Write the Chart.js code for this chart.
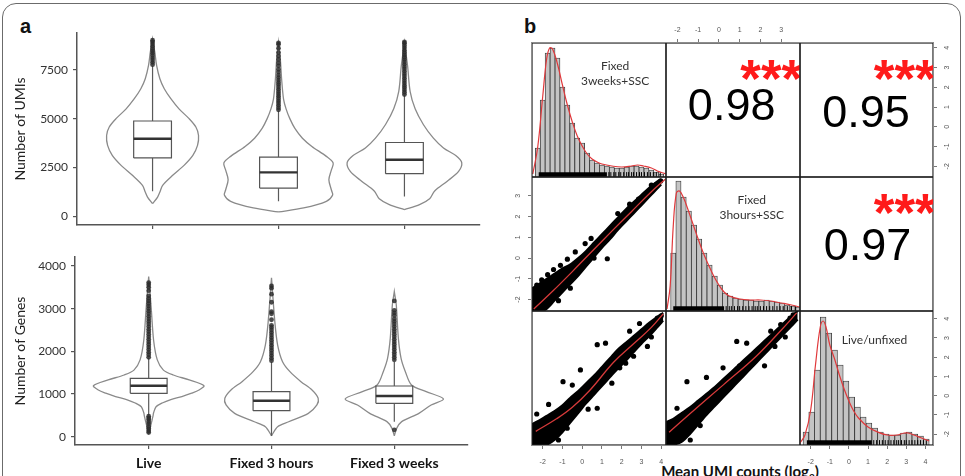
<!DOCTYPE html>
<html>
<head>
<meta charset="utf-8">
<title>UMIs, genes and pairwise UMI correlation</title>
<script src="https://cdn.jsdelivr.net/npm/chart.js@4.4.1/dist/chart.umd.min.js"></script>
<style>
  html, body { margin: 0; padding: 0; background: #fff; }
  body { position: relative; width: 965px; height: 476px; overflow: hidden; font-family: Lato, "Open Sans", sans-serif; }
  canvas { position: absolute; }
  .frame { position: absolute; left: 2px; top: 3px; width: 959px; height: 520px; border: 1.5px solid #6b6b6b; border-radius: 14px; box-sizing: border-box; }
  .panel-label { position: absolute; font: bold 20px "Liberation Sans", Arial, sans-serif; line-height: 20px; color: #111; }
  .grid-frame { position: absolute; left: 531px; top: 42px; width: 403px; height: 404px; border: 1.5px solid #8c8c8c; box-sizing: border-box; }
  .x-title { position: absolute; left: 640px; top: 462px; width: 200px; text-align: center; font: bold 15px Lato, sans-serif; line-height: 18px; color: #111; }
  .x-title sub { font-size: 10px; }
</style>
</head>
<body>
<div class="frame"></div>
<div class="panel-label" style="left:20px;top:16px">a</div>
<div class="panel-label" style="left:524px;top:16px">b</div>
<div class="x-title">Mean UMI counts (log<sub>2</sub>)</div>

<script>
// ---- panel a: violins ----
const groups = ['Live', 'Fixed 3 hours', 'Fixed 3 weeks'];

const umiTicks = [0, 2500, 5000, 7500];
const umiLiveVals = [650, 990, 1245, 1590, 2100, 2610, 3120, 3630, 4140, 4570, 5000, 5500, 6020, 6530, 7040, 7720, 8400, 9080];
const umiLiveWidth = [0, 0.04, 0.058, 0.08, 0.16, 0.25, 0.32, 0.357, 0.365, 0.344, 0.29, 0.21, 0.145, 0.093, 0.058, 0.032, 0.018, 0];
const umi3hVals = [230, 430, 770, 1090, 1350, 1875, 2380, 2730, 3070, 3580, 4000, 4500, 5000, 5500, 6000, 7000, 8000, 8900];
const umi3hWidth = [0, 0.2, 0.38, 0.43, 0.42, 0.40, 0.42, 0.434, 0.38, 0.265, 0.19, 0.13, 0.09, 0.06, 0.04, 0.025, 0.015, 0];
const umi3wVals = [350, 600, 900, 1300, 1800, 2300, 2750, 3100, 3500, 4000, 4700, 5500, 6400, 7700, 8900];
const umi3wWidth = [0, 0.12, 0.2, 0.24, 0.34, 0.43, 0.455, 0.41, 0.31, 0.23, 0.15, 0.085, 0.045, 0.025, 0];
// whisker low, Q1, median, Q3, whisker high
const umiLiveBox = [1280, 2990, 3970, 4880, 7700];
const umi3hBox = [770, 1450, 2250, 3035, 5400];
const umi3wBox = [1020, 2185, 2900, 3780, 6200];
const umiLiveOut = [7760, 7880, 8000, 8110, 8230, 8350, 8460, 8580, 8700, 8820, 8930, 9010];
const umi3hOut = [5450, 5560, 5680, 5800, 5910, 6030, 6150, 6260, 6380, 6500, 6620, 6740, 6850, 6970, 7100, 7230, 7380, 7520, 7700, 7850, 8030, 8200, 8380, 8600, 8800, 8880];
const umi3wOut = [6230, 6350, 6470, 6590, 6700, 6820, 6940, 7060, 7180, 7300, 7420, 7540, 7660, 7780, 7900, 8020, 8140, 8260, 8380, 8500, 8620, 8740, 8860, 8920];

const geneTicks = [0, 1000, 2000, 3000, 4000];
const genesLiveVals = [50, 300, 480, 560, 700, 790, 870, 940, 1020, 1095, 1195, 1330, 1445, 1560, 1800, 2260, 3040, 3750];
const genesLiveWidth = [0, 0.02, 0.035, 0.04, 0.06, 0.11, 0.18, 0.27, 0.35, 0.41, 0.45, 0.33, 0.2, 0.12, 0.07, 0.04, 0.02, 0];
const genes3hVals = [20, 235, 350, 547, 743, 899, 1094, 1289, 1523, 1757, 2148, 2695, 3720];
const genes3hWidth = [0, 0.05, 0.14, 0.30, 0.37, 0.38, 0.33, 0.24, 0.15, 0.09, 0.05, 0.027, 0];
const genes3wVals = [20, 200, 352, 547, 743, 884, 1056, 1212, 1523, 1836, 2304, 3085, 3400];
const genes3wWidth = [0, 0.02, 0.06, 0.2, 0.3, 0.4, 0.26, 0.14, 0.09, 0.055, 0.033, 0.016, 0];
const genesLiveBox = [500, 1015, 1195, 1368, 1850];
const genes3hBox = [15, 610, 843, 1054, 1750];
const genes3wBox = [351, 781, 953, 1187, 1750];
const genesLiveOut = [1860, 1920, 1980, 2040, 2100, 2160, 2220, 2280, 2340, 2400, 2460, 2520, 2580, 2640, 2700, 2760, 2820, 2880, 2940, 3000, 3060, 3120, 3180, 3240, 3300, 3420, 3500, 3560, 3610, 480, 440, 400, 350, 300, 240, 190, 140, 100];
const genes3hOut = [3530, 3480, 3340, 3150, 2930, 2880, 2740, 2610, 2560, 2500, 2440, 2380, 2320, 2260, 2200, 2140, 2080, 2020, 1960, 1900, 1840, 1780];
const genes3wOut = [3180, 2960, 2900, 2840, 2760, 2700, 2640, 2580, 2520, 2460, 2400, 2340, 2280, 2220, 2160, 2100, 2040, 1980, 1920, 1860, 1800, 160];

// ---- panel b: pairs plot of mean UMI counts (log2) ----
const pairLabels = [['Fixed', '3weeks+SSC'], ['Fixed', '3hours+SSC'], ['Live/unfixed']];
const pairMin = [-2.54, -2.55, -2.56];
const pairMax = [4.24, 3.91, 4.4];
const pairTicks = [[-2, -1, 0, 1, 2, 3, 4], [-2, -1, 0, 1, 2, 3], [-2, -1, 0, 1, 2, 3, 4]];
const corrValues = ['0.98', '0.95', '0.97'];   // (3weeks, 3hours), (3weeks, live), (3hours, live)
const corrStars = ['***', '***', '***'];

const hist1Bins = [-2.25, -2.0, -1.75, -1.5, -1.25, -1.0, -0.75, -0.5, -0.25, 0, 0.25, 0.5, 0.75, 1.0, 1.25, 1.5, 1.75, 2.0, 2.25, 2.5, 2.75, 3.0, 3.25, 3.5, 3.75, 4.0];
const hist1Counts = [29, 77, 124, 129, 119, 90, 72, 54, 39, 34, 24, 17, 14, 12, 11, 10, 9, 9, 10, 11, 11, 10, 9, 7, 5, 3];
const dens1X = [-2.5, -2.25, -2.0, -1.8, -1.65, -1.5, -1.25, -1.0, -0.75, -0.5, -0.25, 0, 0.25, 0.5, 0.75, 1.0, 1.5, 2.0, 2.5, 2.8, 3.1, 3.5, 3.8, 4.1, 4.24];
const dens1Y = [3, 30, 80, 118, 129, 128, 113, 92, 72, 55, 41, 31, 23, 18, 15, 13, 11, 10, 11, 12, 11, 9, 6, 4, 3];
const rug1Dense = [-2.2, 1.25];
const rug1Ticks = [1.35, 1.45, 1.6, 1.7, 1.85, 1.95, 2.1, 2.25, 2.35, 2.5, 2.6, 2.75, 2.9, 3.0, 3.15, 3.3, 3.45, 3.6, 3.75, 3.95];

const hist2Bins = [-2.2, -1.95, -1.7, -1.45, -1.2, -0.95, -0.7, -0.45, -0.2, 0.05, 0.3, 0.55, 0.8, 1.05, 1.3, 1.55, 1.8, 2.05, 2.3, 2.55, 2.8, 3.05, 3.3, 3.55, 3.8];
const hist2Counts = [58, 130, 114, 100, 86, 72, 58, 46, 35, 26, 18, 15, 13, 12, 11, 11, 10, 10, 11, 10, 9, 8, 6, 5, 4];
const dens2X = [-2.5, -2.35, -2.2, -2.05, -1.9, -1.7, -1.5, -1.25, -1.0, -0.75, -0.5, -0.25, 0, 0.25, 0.5, 1.0, 1.5, 2.0, 2.5, 3.0, 3.5, 3.9];
const dens2Y = [2, 25, 85, 118, 120, 113, 102, 87, 72, 58, 46, 35, 26, 19, 15, 12, 11, 11, 10, 8, 6, 4];
const rug2Dense = [-2.2, 0.25];
const rug2Ticks = [0.35, 0.5, 0.6, 0.75, 0.9, 1.0, 1.15, 1.3, 1.45, 1.6, 1.75, 1.85, 2.0, 2.15, 2.3, 2.45, 2.6, 2.8, 2.95, 3.1, 3.3, 3.5, 3.7];

const hist3Bins = [-2.25, -1.95, -1.65, -1.35, -1.05, -0.75, -0.45, -0.15, 0.15, 0.45, 0.75, 1.05, 1.35, 1.65, 1.95, 2.25, 2.55, 2.85, 3.15, 3.45, 3.75, 4.05];
const hist3Counts = [13, 33, 75, 128, 112, 95, 80, 64, 48, 38, 28, 22, 17, 13, 11, 10, 10, 12, 13, 11, 9, 6];
const dens3X = [-2.56, -2.3, -2.0, -1.75, -1.5, -1.35, -1.2, -1.0, -0.75, -0.5, -0.25, 0, 0.25, 0.5, 1.0, 1.5, 2.0, 2.5, 2.9, 3.1, 3.4, 3.8, 4.2];
const dens3Y = [2, 10, 35, 80, 118, 124, 118, 100, 86, 70, 56, 44, 34, 27, 18, 13, 10, 10, 12, 12, 10, 7, 4];
const rug3Dense = [-2.2, 1.2];
const rug3Ticks = [1.3, 1.45, 1.6, 1.75, 1.9, 2.05, 2.2, 2.35, 2.5, 2.6, 2.75, 2.9, 3.0, 3.15, 3.3, 3.45, 3.6, 3.75, 3.9, 4.05];

// scatter: dense cloud as a band (lower / upper edge), loess fit, loose points
const sc21BandX = [-2.6, -2.2, -1.8, -1.4, -1.0, -0.6, -0.2, 0.2, 0.6, 1.0, 1.4, 1.8, 2.2, 2.6, 3.0, 3.4, 3.8, 4.0];
const sc21Lo = [-2.6, -2.6, -2.45, -2.05, -1.65, -1.25, -0.85, -0.4, 0.05, 0.5, 0.9, 1.35, 1.75, 2.15, 2.55, 2.95, 3.35, 3.55];
const sc21Hi = [-1.5, -1.25, -1.0, -0.75, -0.5, -0.3, 0.0, 0.35, 0.75, 1.15, 1.55, 1.95, 2.35, 2.7, 3.05, 3.4, 3.7, 3.8];
const sc21FitX = [-2.45, -1.5, -0.5, 0.5, 1.5, 2.5, 3.5, 4.2];
const sc21FitY = [-2.45, -1.6, -0.65, 0.33, 1.3, 2.25, 3.2, 3.8];
const sc21PtsX = [1.27, 3.97, 3.75, 3.5, 3.2, 2.85, -2.3, -2.05, -1.75, -1.45, -1.1, -0.75, -0.35, 0.15, 0.45, 1.8, 2.4, -1.2, -0.6, 0.6];
const sc21PtsY = [-0.03, 3.72, 3.55, 3.52, 3.1, 2.85, -1.3, -1.05, -0.8, -0.55, -0.35, -0.05, 0.3, 0.7, 0.95, 2.15, 2.6, -2.05, -1.45, 0.0];

const sc31BandX = [-2.6, -2.2, -1.8, -1.4, -1.0, -0.6, -0.2, 0.2, 0.6, 1.0, 1.4, 1.8, 2.2, 2.6, 3.0, 3.4, 3.8, 4.1];
const sc31Lo = [-2.6, -2.6, -2.55, -2.3, -1.9, -1.4, -0.9, -0.4, 0.05, 0.5, 0.95, 1.4, 1.8, 2.25, 2.7, 3.1, 3.55, 3.9];
const sc31Hi = [-1.5, -1.3, -1.05, -0.8, -0.5, -0.1, 0.25, 0.65, 1.05, 1.5, 1.95, 2.4, 2.75, 3.1, 3.45, 3.8, 4.1, 4.3];
const sc31FitX = [-2.35, -1.3, -0.5, 0.4, 1.6, 2.6, 3.5, 4.1];
const sc31FitY = [-1.85, -1.2, -0.6, 0.3, 1.75, 2.7, 3.55, 4.25];
const sc31PtsX = [0.76, 1.18, -0.97, -0.09, 0.76, -0.76, 3.3, 3.8, 4.0, 2.9, 2.2, 1.9, 2.6, -1.7, -2.3, -1.2, -0.5, 1.5, 3.5, 0.3, 2.4];
const sc31PtsY = [2.65, 2.73, 0.73, 1.34, -0.65, -1.69, 2.56, 4.03, 4.15, 3.75, 1.69, 1.45, 2.05, -0.45, -0.95, -2.3, 0.55, 0.65, 3.05, -0.7, 3.35];

const sc32BandX = [-2.6, -2.2, -1.8, -1.4, -1.0, -0.6, -0.2, 0.2, 0.6, 1.0, 1.4, 1.8, 2.2, 2.6, 3.0, 3.4, 3.8];
const sc32Lo = [-2.6, -2.55, -2.4, -2.0, -1.5, -1.0, -0.55, -0.1, 0.35, 0.8, 1.25, 1.7, 2.15, 2.6, 3.05, 3.5, 3.95];
const sc32Hi = [-1.4, -1.2, -0.9, -0.6, -0.25, 0.1, 0.45, 0.85, 1.25, 1.65, 2.05, 2.45, 2.85, 3.25, 3.65, 4.05, 4.4];
const sc32FitX = [-2.4, -1.3, 0.2, 1.8, 3.0, 3.75];
const sc32FitY = [-1.9, -0.85, 0.55, 2.05, 3.4, 4.3];
const sc32PtsX = [-1.54, 0.86, 1.34, 2.7, -2.02, 3.43, 3.58, 2.98, -1.38, 1.66, -0.6, 0.2, 2.2, 3.2, -2.3, -0.9, 1.0, 2.5];
const sc32PtsY = [0.73, 2.82, 2.73, 2.56, -0.65, 4.03, 4.2, 3.7, -2.3, 1.86, 0.95, 1.45, 1.55, 3.05, -2.45, -1.55, 1.55, 3.35];

Chart.defaults.font.family = 'Lato, "Open Sans", sans-serif';
Chart.defaults.animation = false;
Chart.defaults.responsive = false;
Chart.defaults.events = [];
Chart.defaults.plugins.legend.display = false;
Chart.defaults.plugins.tooltip.enabled = false;

function makeCanvas(left, top, width, height) {
    const c = document.createElement('canvas');
    c.width = width;
    c.height = height;
    c.style.left = left + 'px';
    c.style.top = top + 'px';
    c.style.width = width + 'px';
    c.style.height = height + 'px';
    document.body.appendChild(c);
    return c;
}

function toPoints(xs, ys) {
    return xs.map((x, i) => ({ x: x, y: ys[i] }));
}

// draws a box round the plot area of a pairs cell
const frameBox = {
    id: 'frameBox',
    afterDatasetsDraw(chart, args, opts) {
        const a = chart.chartArea;
        const ctx = chart.ctx;
        ctx.save();
        ctx.strokeStyle = opts.color || '#1e1e1e';
        ctx.lineWidth = opts.width || 1.2;
        ctx.strokeRect(a.left, a.top, a.width, a.height);
        ctx.restore();
    }
};

// free text inside a cell, clipped to the cell
const cellText = {
    id: 'cellText',
    afterDatasetsDraw(chart, args, opts) {
        const a = chart.chartArea;
        const ctx = chart.ctx;
        (opts.items || []).forEach(function (it) {
            ctx.save();
            ctx.beginPath();
            ctx.rect(a.left, a.top, a.width, a.height);
            ctx.clip();
            ctx.font = it.font;
            ctx.fillStyle = it.color;
            ctx.textAlign = it.align || 'center';
            ctx.textBaseline = it.baseline || 'middle';
            ctx.fillText(it.text, a.left + it.fx * a.width, a.top + it.fy * a.height);
            ctx.restore();
        });
    }
};

function violinChart(spec) {
    const canvas = makeCanvas(spec.left, spec.top, spec.width, spec.height);
    const datasets = [];
    const bw = 0.15;

    spec.groups.forEach(function (g, i) {
        const pos = i + 1;
        const leftSide = g.vals.map((v, k) => ({ x: pos - g.widths[k], y: v }));
        const rightSide = g.vals.map((v, k) => ({ x: pos + g.widths[k], y: v })).reverse();
        const lo = g.box[0], q1 = g.box[1], med = g.box[2], q3 = g.box[3], hi = g.box[4];

        datasets.push({
            data: leftSide.concat(rightSide),
            showLine: true, tension: 0.3, pointRadius: 0,
            borderColor: '#8a8a8a', borderWidth: 1.3, order: 5
        });
        datasets.push({
            data: [{ x: pos, y: lo }, { x: pos, y: q1 }, { x: pos, y: null }, { x: pos, y: q3 }, { x: pos, y: hi }],
            showLine: true, pointRadius: 0, borderColor: '#5a5a5a', borderWidth: 1.2, order: 4
        });
        datasets.push({
            data: [{ x: pos - bw, y: q1 }, { x: pos + bw, y: q1 }, { x: pos + bw, y: q3 }, { x: pos - bw, y: q3 }, { x: pos - bw, y: q1 }],
            showLine: true, pointRadius: 0, borderColor: '#555', borderWidth: 1.2, order: 3
        });
        datasets.push({
            data: [{ x: pos - bw, y: med }, { x: pos + bw, y: med }],
            showLine: true, pointRadius: 0, borderColor: '#333', borderWidth: 2.4, order: 2
        });
        datasets.push({
            data: g.out.map(v => ({ x: pos, y: v })),
            pointRadius: 2.4, pointBackgroundColor: 'rgba(45,45,45,0.85)', pointBorderWidth: 0, order: 1
        });
    });

    return new Chart(canvas, {
        type: 'scatter',
        data: { datasets: datasets },
        options: {
            layout: { padding: { left: 0, top: spec.area.top, right: spec.width - spec.area.right, bottom: 0 } },
            scales: {
                x: {
                    type: 'linear', min: 0.4, max: 3.6, bounds: 'data',
                    afterBuildTicks: s => { s.ticks = groups.map((name, i) => ({ value: i + 1 })); },
                    afterFit: s => { s.height = spec.height - spec.area.bottom; },
                    ticks: {
                        autoSkip: false, maxRotation: 0, padding: 6, color: '#151515',
                        font: { size: 14, weight: 'bold' },
                        callback: v => spec.showLabels ? groups[Math.round(v) - 1] : ''
                    },
                    grid: { drawOnChartArea: false, tickLength: 4, color: '#555', lineWidth: 1.2 },
                    border: { color: '#555', width: 1.5 }
                },
                y: {
                    type: 'linear', min: spec.yMin, max: spec.yMax, bounds: 'data',
                    afterBuildTicks: s => { s.ticks = spec.yTicks.map(v => ({ value: v })); },
                    afterFit: s => { s.width = spec.area.left; },
                    ticks: { autoSkip: false, padding: 5, color: '#333', font: { size: 12 }, callback: v => String(v) },
                    grid: { drawOnChartArea: false, tickLength: 4, color: '#555', lineWidth: 1.2 },
                    border: { color: '#555', width: 1.5 },
                    title: { display: true, text: spec.yTitle, color: '#222', font: { size: 14 }, padding: { top: 12, bottom: 0 } }
                }
            }
        }
    });
}

violinChart({
    left: 0, top: 0, width: 490, height: 240,
    area: { left: 77, top: 33, right: 480, bottom: 225 },
    yMin: -440, yMax: 9380, yTicks: umiTicks, yTitle: 'Number of UMIs', showLabels: false,
    groups: [
        { vals: umiLiveVals, widths: umiLiveWidth, box: umiLiveBox, out: umiLiveOut },
        { vals: umi3hVals, widths: umi3hWidth, box: umi3hBox, out: umi3hOut },
        { vals: umi3wVals, widths: umi3wWidth, box: umi3wBox, out: umi3wOut }
    ]
});

violinChart({
    left: 0, top: 240, width: 490, height: 236,
    area: { left: 75, top: 17, right: 468, bottom: 205 },
    yMin: -195, yMax: 4210, yTicks: geneTicks, yTitle: 'Number of Genes', showLabels: true,
    groups: [
        { vals: genesLiveVals, widths: genesLiveWidth, box: genesLiveBox, out: genesLiveOut },
        { vals: genes3hVals, widths: genes3hWidth, box: genes3hBox, out: genes3hOut },
        { vals: genes3wVals, widths: genes3wWidth, box: genes3wBox, out: genes3wOut }
    ]
});

// ---- pairs grid ----
const cellX = [532, 666, 800, 933];
const cellY = [43, 177, 311, 445];
const M = 26;

function pairCell(r, c, cfg) {
    const x0 = cellX[c], x1 = cellX[c + 1], y0 = cellY[r], y1 = cellY[r + 1];
    const canvas = makeCanvas(x0 - M, y0 - M, x1 - x0 + 2 * M, y1 - y0 + 2 * M);
    const xPos = cfg.xAxis || null;
    const yPos = cfg.yAxis || null;
    const tickFont = { family: '"Liberation Sans", Arial, sans-serif', size: 7 };
    const grid = { drawOnChartArea: false, tickLength: 4, color: '#555', lineWidth: 0.8, offset: false };

    const scales = {
        x: {
            type: 'linear', min: pairMin[c], max: pairMax[c], bounds: 'data', offset: false,
            position: xPos || 'bottom', display: !!xPos,
            afterBuildTicks: s => { s.ticks = pairTicks[c].map(v => ({ value: v })); },
            afterFit: s => { s.height = xPos ? M : 0; },
            ticks: { font: tickFont, color: '#555', autoSkip: false, padding: xPos === 'bottom' ? 9 : 5, maxRotation: 0 },
            grid: grid, border: { display: false }
        },
        y: {
            type: 'linear', min: pairMin[r], max: pairMax[r], bounds: 'data',
            position: yPos || 'left', display: !!yPos,
            afterBuildTicks: s => { s.ticks = pairTicks[r].map(v => ({ value: v })); },
            afterFit: s => { s.width = yPos ? M : 0; },
            ticks: { font: tickFont, color: '#555', autoSkip: false, padding: 7, minRotation: 90, maxRotation: 90, crossAlign: 'center' },
            grid: grid, border: { display: false }
        }
    };
    if (cfg.counts) {
        scales.yc = { type: 'linear', min: 0, max: 134, display: false, afterFit: s => { s.width = 0; } };
    }

    return new Chart(canvas, {
        type: cfg.type || 'scatter',
        data: { datasets: cfg.datasets || [] },
        options: {
            layout: {
                padding: {
                    left: yPos === 'left' ? 0 : M, right: yPos === 'right' ? 0 : M,
                    top: xPos === 'top' ? 0 : M, bottom: xPos === 'bottom' ? 0 : M
                }
            },
            scales: scales,
            plugins: { cellText: { items: cfg.text || [] }, frameBox: { color: '#1e1e1e', width: 1.2 } }
        },
        plugins: [frameBox, cellText]
    });
}

function diagDatasets(bins, counts, dx, dy, rugDense, rugTicks) {
    return [
        {
            type: 'line', data: toPoints(dx, dy), yAxisID: 'yc', clip: 0,
            borderColor: '#e0383b', borderWidth: 1.2, pointRadius: 0, tension: 0.4, order: 1
        },
        {
            type: 'line', data: [{ x: rugDense[0], y: 2.4 }, { x: rugDense[1], y: 2.4 }], yAxisID: 'yc', clip: 0,
            borderColor: '#000', borderWidth: 4.8, borderCapStyle: 'butt', pointRadius: 0, order: 2
        },
        {
            type: 'line', data: rugTicks.map(v => ({ x: v, y: 2.4 })), yAxisID: 'yc', clip: 0, showLine: false,
            pointStyle: 'line', pointRadius: 2.5, pointRotation: 90, pointBorderColor: '#000', pointBorderWidth: 1, order: 2
        },
        {
            type: 'bar', data: toPoints(bins, counts), yAxisID: 'yc', clip: 0,
            backgroundColor: '#c4c4c4', borderColor: '#333', borderWidth: 0.8,
            barPercentage: 1, categoryPercentage: 1, order: 3
        }
    ];
}

function scatterDatasets(bandX, lo, hi, fitX, fitY, ptsX, ptsY) {
    return [
        {
            type: 'line', data: toPoints(fitX, fitY), clip: 0,
            borderColor: '#d63a3a', borderWidth: 1.3, pointRadius: 0, tension: 0.4, order: 1
        },
        {
            type: 'scatter', data: toPoints(ptsX, ptsY), clip: 0,
            pointRadius: 2.6, pointBackgroundColor: '#000', pointBorderWidth: 0, order: 2
        },
        {
            type: 'line', data: toPoints(bandX, hi), clip: 0, fill: '+1', backgroundColor: '#000',
            borderColor: '#000', borderWidth: 2, pointRadius: 0, tension: 0.3, order: 3
        },
        {
            type: 'line', data: toPoints(bandX, lo), clip: 0,
            borderColor: '#000', borderWidth: 2, pointRadius: 0, tension: 0.3, order: 4
        }
    ];
}

function labelItems(lines, fx, fy) {
    return lines.map((t, i) => ({ text: t, fx: fx, fy: fy + i * 0.118, font: '12px Lato, sans-serif', color: '#333' }));
}

function corrItems(value, starsText, fx, fy) {
    return [
        { text: value, fx: fx, fy: fy, font: '45px "Liberation Sans", Arial, sans-serif', color: '#000', baseline: 'alphabetic' },
        { text: starsText, fx: 0.555, fy: 0.40, font: 'bold 53px "Liberation Sans", Arial, sans-serif', color: '#ff1a1a', align: 'left', baseline: 'alphabetic' }
    ];
}

// row 1
pairCell(0, 0, {
    type: 'bar', counts: true,
    datasets: diagDatasets(hist1Bins, hist1Counts, dens1X, dens1Y, rug1Dense, rug1Ticks),
    text: labelItems(pairLabels[0], 0.62, 0.17)
});
pairCell(0, 1, { xAxis: 'top', text: corrItems(corrValues[0], corrStars[0], 0.49, 0.575) });
pairCell(0, 2, { yAxis: 'right', text: corrItems(corrValues[1], corrStars[1], 0.496, 0.625) });
// row 2
pairCell(1, 0, {
    yAxis: 'left',
    datasets: scatterDatasets(sc21BandX, sc21Lo, sc21Hi, sc21FitX, sc21FitY, sc21PtsX, sc21PtsY)
});
pairCell(1, 1, {
    type: 'bar', counts: true,
    datasets: diagDatasets(hist2Bins, hist2Counts, dens2X, dens2Y, rug2Dense, rug2Ticks),
    text: labelItems(pairLabels[1], 0.64, 0.17)
});
pairCell(1, 2, { text: corrItems(corrValues[2], corrStars[2], 0.507, 0.62) });
// row 3
pairCell(2, 0, {
    xAxis: 'bottom',
    datasets: scatterDatasets(sc31BandX, sc31Lo, sc31Hi, sc31FitX, sc31FitY, sc31PtsX, sc31PtsY)
});
pairCell(2, 1, {
    datasets: scatterDatasets(sc32BandX, sc32Lo, sc32Hi, sc32FitX, sc32FitY, sc32PtsX, sc32PtsY)
});
pairCell(2, 2, {
    type: 'bar', counts: true, xAxis: 'bottom', yAxis: 'right',
    datasets: diagDatasets(hist3Bins, hist3Counts, dens3X, dens3Y, rug3Dense, rug3Ticks),
    text: labelItems(pairLabels[2], 0.56, 0.216)
});

const gridFrame = document.createElement('div');
gridFrame.className = 'grid-frame';
document.body.appendChild(gridFrame);
</script>
</body>
</html>
